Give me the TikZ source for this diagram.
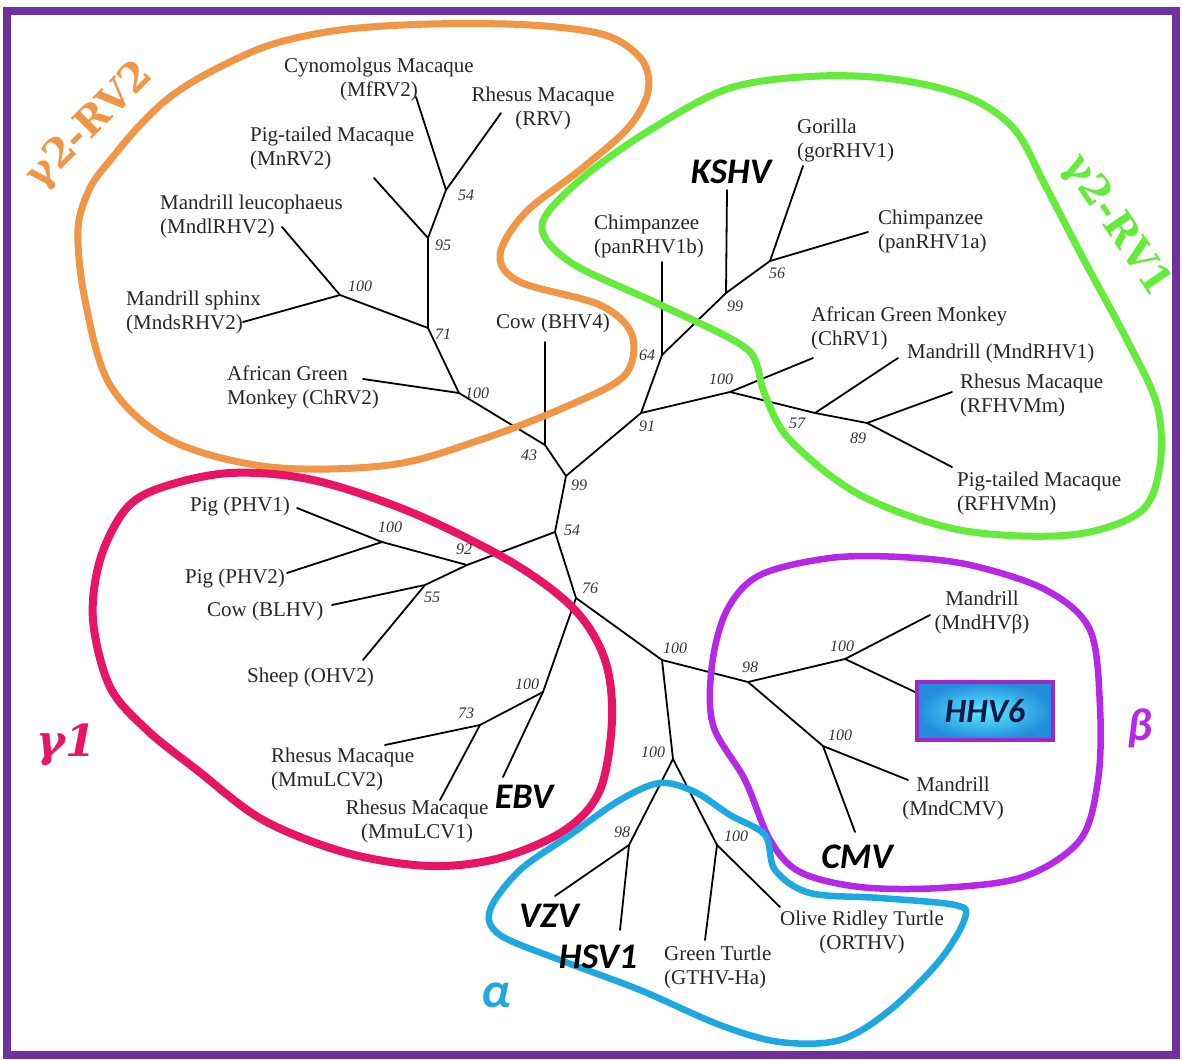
\documentclass[tikz,border=0pt]{standalone}
\usepackage{fontspec}
\setmainfont{Liberation Serif}
\newfontfamily\carl{Carlito}
\newfontfamily\dvserif{DejaVu Serif}
\definecolor{orangeC}{RGB}{240,150,70}
\definecolor{greenC}{RGB}{100,235,60}
\definecolor{pinkC}{RGB}{232,20,100}
\definecolor{purpleC}{RGB}{180,40,230}
\definecolor{blueC}{RGB}{30,168,225}
\definecolor{frameC}{RGB}{112,48,160}
\definecolor{boxIn}{RGB}{90,238,255}
\definecolor{boxOut}{RGB}{35,140,220}
\definecolor{boxBorder}{RGB}{160,40,200}
\definecolor{boxText}{RGB}{10,25,70}
\begin{document}
\begin{tikzpicture}[x=1pt,y=-1pt,
  lab/.style={font=\fontsize{21}{24}\selectfont, text=black!85, inner sep=0pt, align=center},
  labl/.style={lab, align=left, anchor=west},
  big/.style={font=\carl\bfseries\itshape\fontsize{36}{40}\selectfont, text=black, inner sep=0pt},
  boot/.style={font=\fontsize{16}{16}\selectfont\itshape, text=black!80, inner sep=0pt},
  branch/.style={line width=1.8pt, black, line cap=round},
  blob/.style={line width=7pt, line join=round},
  grp/.style={inner sep=0pt}
]
\useasboundingbox (0,0) rectangle (1182,1059);
\fill[white] (0,0) rectangle (1182,1059);

% ---------- tree coordinates ----------
\coordinate (o54) at (446,190);
\coordinate (o95) at (428,238);
\coordinate (o71) at (428,328);
\coordinate (o100a) at (340,295);
\coordinate (o100b) at (459,393);
\coordinate (n43) at (545,445);
\coordinate (n99) at (566,476);
\coordinate (n54) at (555,532);
\coordinate (n91) at (641,413);
\coordinate (n64) at (662,355);
\coordinate (k99) at (726,293);
\coordinate (k56) at (770,261);
\coordinate (g100) at (730,392);
\coordinate (g57) at (815,413);
\coordinate (g89) at (867,423);
\coordinate (r92) at (467,565);
\coordinate (r100) at (382,542);
\coordinate (r55) at (425,585);
\coordinate (n76) at (576,598);
\coordinate (e100) at (543,692);
\coordinate (e73) at (480,725);
\coordinate (c100) at (662,660);
\coordinate (b98) at (748,682);
\coordinate (b100u) at (845,659);
\coordinate (b100l) at (823,746);
\coordinate (a100) at (673,759);
\coordinate (a98) at (629,845);
\coordinate (t100) at (717,845);
% leaf ends
\coordinate (l-cyn) at (416,97);
\coordinate (l-rrv) at (501,113);
\coordinate (l-mnrv) at (374,178);
\coordinate (l-mndl) at (282,227);
\coordinate (l-mnds) at (243,322);
\coordinate (l-chrv2) at (363,379);
\coordinate (l-bhv4) at (545,342);
\coordinate (l-panb) at (662,262);
\coordinate (l-kshv) at (727,190);
\coordinate (l-gor) at (803,166);
\coordinate (l-pana) at (868,232);
\coordinate (l-chrv1) at (813,358);
\coordinate (l-mndrhv1) at (898,358);
\coordinate (l-rfhvmm) at (952,392);
\coordinate (l-rfhvmn) at (952,467);
\coordinate (l-phv1) at (297,508);
\coordinate (l-phv2) at (287,573);
\coordinate (l-blhv) at (332,605);
\coordinate (l-ohv2) at (363,660);
\coordinate (l-mmu2) at (385,745);
\coordinate (l-mmu1) at (440,800);
\coordinate (l-ebv) at (503,777);
\coordinate (l-mndhvb) at (930,615);
\coordinate (l-hhv6) at (915,692);
\coordinate (l-mndcmv) at (908,780);
\coordinate (l-cmv) at (855,832);
\coordinate (l-vzv) at (555,896);
\coordinate (l-hsv1) at (620,930);
\coordinate (l-gthv) at (705,940);
\coordinate (l-orthv) at (780,907);

% ---------- branches ----------
\draw[branch] (o54) -- (l-cyn);
\draw[branch] (o54) -- (l-rrv);
\draw[branch] (o54) -- (o95);
\draw[branch] (o95) -- (l-mnrv);
\draw[branch] (o95) -- (o71);
\draw[branch] (o71) -- (o100a);
\draw[branch] (o100a) -- (l-mndl);
\draw[branch] (o100a) -- (l-mnds);
\draw[branch] (o71) -- (o100b);
\draw[branch] (o100b) -- (l-chrv2);
\draw[branch] (o100b) -- (n43);
\draw[branch] (n43) -- (l-bhv4);
\draw[branch] (n43) -- (n99);
\draw[branch] (n99) -- (n91);
\draw[branch] (n91) -- (n64);
\draw[branch] (n64) -- (l-panb);
\draw[branch] (n64) -- (k99);
\draw[branch] (k99) -- (l-kshv);
\draw[branch] (k99) -- (k56);
\draw[branch] (k56) -- (l-gor);
\draw[branch] (k56) -- (l-pana);
\draw[branch] (n91) -- (g100);
\draw[branch] (g100) -- (l-chrv1);
\draw[branch] (g100) -- (g57);
\draw[branch] (g57) -- (l-mndrhv1);
\draw[branch] (g57) -- (g89);
\draw[branch] (g89) -- (l-rfhvmm);
\draw[branch] (g89) -- (l-rfhvmn);
\draw[branch] (n99) -- (n54);
\draw[branch] (n54) -- (r92);
\draw[branch] (r92) -- (r100);
\draw[branch] (r100) -- (l-phv1);
\draw[branch] (r100) -- (l-phv2);
\draw[branch] (r92) -- (r55);
\draw[branch] (r55) -- (l-blhv);
\draw[branch] (r55) -- (l-ohv2);
\draw[branch] (n54) -- (n76);
\draw[branch] (n76) -- (e100);
\draw[branch] (e100) -- (l-ebv);
\draw[branch] (e100) -- (e73);
\draw[branch] (e73) -- (l-mmu2);
\draw[branch] (e73) -- (l-mmu1);
\draw[branch] (n76) -- (c100);
\draw[branch] (c100) -- (b98);
\draw[branch] (b98) -- (b100u);
\draw[branch] (b100u) -- (l-mndhvb);
\draw[branch] (b100u) -- (l-hhv6);
\draw[branch] (b98) -- (b100l);
\draw[branch] (b100l) -- (l-mndcmv);
\draw[branch] (b100l) -- (l-cmv);
\draw[branch] (c100) -- (a100);
\draw[branch] (a100) -- (a98);
\draw[branch] (a98) -- (l-vzv);
\draw[branch] (a98) -- (l-hsv1);
\draw[branch] (a100) -- (t100);
\draw[branch] (t100) -- (l-gthv);
\draw[branch] (t100) -- (l-orthv);

% ---------- group outlines ----------
\draw[blob, orangeC] plot[smooth cycle, tension=0.55] coordinates {
 (112,158) (140,125) (170,97) (210,72) (270,45) (340,30) (430,24) (530,25)
 (605,35) (642,60) (648,92) (628,128)
 (580,170) (525,213) (500,255) (520,282) (600,305) (632,335) (625,375)
 (570,405) (480,440) (390,465) (270,467) (170,440) (110,385) (85,300) (78,230) (90,188)};
\draw[blob, greenC] plot[smooth cycle, tension=0.55] coordinates {
 (542,225) (580,180) (650,130) (730,88) (820,76) (900,80) (970,98) (1015,130)
 (1045,185) (1085,262) (1127,340) (1157,405) (1160,465) (1140,512) (1070,535) (960,530) (860,495) (790,440)
 (765,395) (757,365) (748,350) (720,333) (650,300) (570,262)};
\draw[blob, pinkC, line width=8pt] plot[smooth cycle, tension=0.55] coordinates {
 (160,488) (230,473) (313,480) (413,513) (513,563) (575,610) (605,660) (612,720)
 (600,790) (565,830) (500,858) (430,866) (347,853) (263,820) (197,770)
 (147,730) (110,687) (93,620) (100,560) (125,510)};
\draw[blob, purpleC, line width=6.5pt] plot[smooth cycle, tension=0.55] coordinates {
 (727,610) (760,575) (830,558) (900,557) (970,565) (1046,590) (1090,630)
 (1100,707) (1098,780) (1080,840) (1023,877) (940,888) (860,887) (800,872)
 (770,840) (745,780) (713,725) (712,665)};
\draw[blob, blueC, line width=6.5pt] plot[smooth cycle, tension=0.55] coordinates {
 (490,910) (520,870) (570,835) (620,800) (660,783) (695,792) (730,815)
 (765,835) (775,870) (810,893) (880,898) (955,905) (965,918) (940,960)
 (890,1010) (840,1040) (780,1042) (720,1025) (640,990) (560,960) (500,935)};

% ---------- leaf labels ----------
\node[lab] (cyn) at (379,79) {Cynomolgus Macaque\\(MfRV2)};
\node[lab] (rrv) at (543,108) {Rhesus Macaque\\(RRV)};
\node[labl] (mnrv) at (250,148.5) {Pig-tailed Macaque\\(MnRV2)};
\node[labl] (mndl) at (160,216) {Mandrill leucophaeus\\(MndlRHV2)};
\node[labl] (mnds) at (126,312.5) {Mandrill sphinx\\(MndsRHV2)};
\node[labl] (chrv2) at (227,387) {African Green\\Monkey (ChRV2)};
\node[lab] (bhv4) at (553,323) {Cow (BHV4)};
\node[labl] (panb) at (594,236.5) {Chimpanzee\\(panRHV1b)};
\node[big] (kshv) at (731,172) {KSHV};
\node[labl] (gor) at (797,140.5) {Gorilla\\(gorRHV1)};
\node[labl] (pana) at (878,231.5) {Chimpanzee\\(panRHV1a)};
\node[labl] (chrv1) at (811,328.5) {African Green Monkey\\(ChRV1)};
\node[labl] (mndrhv1) at (907,353) {Mandrill (MndRHV1)};
\node[labl] (rfhvmm) at (960,395) {Rhesus Macaque\\(RFHVMm)};
\node[labl] (rfhvmn) at (957,493.5) {Pig-tailed Macaque\\(RFHVMn)};
\node[labl] (phv1) at (190,506) {Pig (PHV1)};
\node[labl] (phv2) at (185,578) {Pig (PHV2)};
\node[labl] (blhv) at (207,611) {Cow (BLHV)};
\node[labl] (ohv2) at (247,677) {Sheep (OHV2)};
\node[labl] (mmu2) at (271,769) {Rhesus Macaque\\(MmuLCV2)};
\node[lab] (mmu1) at (417,821) {Rhesus Macaque\\(MmuLCV1)};
\node[big] (ebv) at (524,797) {EBV};
\node[lab] (mndhvb) at (982,612.5) {Mandrill\\(MndHVβ)};
\node[draw=boxBorder, line width=4pt, shade, inner color=boxIn, outer color=boxOut,
      minimum width=136pt, minimum height=58pt, inner sep=0pt,
      font=\carl\bfseries\itshape\fontsize{34}{36}\selectfont, text=boxText] (hhv6) at (985,711) {HHV6};
\node[lab] (mndcmv) at (953,798.5) {Mandrill\\(MndCMV)};
\node[big] (cmv) at (857,857) {CMV};
\node[big] (vzv) at (549,916) {VZV};
\node[big] (hsv1) at (598,957) {HSV1};
\node[labl] (gthv) at (664,967.5) {Green Turtle\\(GTHV-Ha)};
\node[lab] (orthv) at (862,932) {Olive Ridley Turtle\\(ORTHV)};

% ---------- bootstrap values ----------
\node[boot] (bs1) at (466,195) {54};
\node[boot] (bs2) at (443,245) {95};
\node[boot] (bs3) at (360,286) {100};
\node[boot] (bs4) at (443,334) {71};
\node[boot] (bs5) at (477,393) {100};
\node[boot] (bs6) at (529,455) {43};
\node[boot] (bs7) at (579,485) {99};
\node[boot] (bs8) at (572,530) {54};
\node[boot] (bs9) at (647,426) {91};
\node[boot] (bs10) at (647,355) {64};
\node[boot] (bs11) at (735,306) {99};
\node[boot] (bs12) at (777,273) {56};
\node[boot] (bs13) at (721,379) {100};
\node[boot] (bs14) at (797,423) {57};
\node[boot] (bs15) at (858,438) {89};
\node[boot] (bs16) at (390,527) {100};
\node[boot] (bs17) at (464,549) {92};
\node[boot] (bs18) at (432,597) {55};
\node[boot] (bs19) at (590,588) {76};
\node[boot] (bs20) at (527,684) {100};
\node[boot] (bs21) at (466,713) {73};
\node[boot] (bs22) at (675,648) {100};
\node[boot] (bs23) at (750,667) {98};
\node[boot] (bs24) at (842,646) {100};
\node[boot] (bs25) at (840,735) {100};
\node[boot] (bs26) at (653,752) {100};
\node[boot] (bs27) at (622,832) {98};
\node[boot] (bs28) at (736,836) {100};

% ---------- group labels ----------
\node[grp, text=orangeC, rotate=45, font=\dvserif\bfseries\fontsize{40}{44}\selectfont] (grv2) at (90,126) {γ2-RV2};
\node[grp, text=greenC, rotate=-56, font=\dvserif\bfseries\fontsize{40}{44}\selectfont] (grv1) at (1116,226) {γ2-RV1};
\node[grp, text=pinkC, font=\dvserif\bfseries\itshape\fontsize{44}{48}\selectfont] (g1) at (66,745) {γ1};
\node[grp, text=purpleC, font=\carl\bfseries\itshape\fontsize{46}{50}\selectfont] (gbeta) at (1140,728) {β};
\node[grp, text=blueC, font=\carl\bfseries\itshape\fontsize{50}{54}\selectfont] (galpha) at (496,995) {α};

% ---------- frame ----------
\draw[frameC, line width=8pt] (7,11) rectangle (1176,1055);
\end{tikzpicture}
\end{document}
